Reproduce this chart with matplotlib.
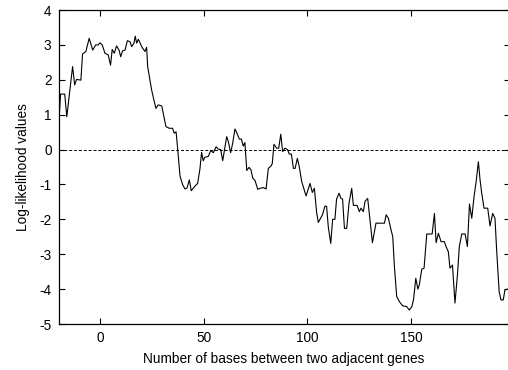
import matplotlib.pyplot as plt

ARQUIVO_SAIDA = "out.png"

# distancia entre genes adjacentes (bases) e log-verossimilhanca
distancia = [
    -20, -19, -17, -16, -13.2, -12.2, -11.3, -9.2, -8.4, -6.8,
    -5.2, -3.5, -2.1, -0.8, 0, 1.1, 2.4, 4.0, 5.1, 5.9,
    6.9, 8.0, 9.2, 10.0, 10.9, 12.1, 13.2, 14.5, 15.3, 16.4,
    17.0, 17.7, 18.5, 19.3, 20.1, 21.7, 22.5, 23.0, 24.1, 24.9,
    26.0, 27.0, 28.1, 29.8, 30.5, 31.8, 33.4, 35.0, 35.8, 36.7,
    37.5, 38.6, 39.9, 41.0, 42.0, 43.1, 44.0, 45.0, 46.1, 47.1,
    48.2, 49.0, 49.8, 50.6, 52.2, 53.4, 54.7, 56.0, 57.1, 58.2,
    59.2, 61.1, 61.9, 63.0, 64.0, 65.1, 66.2, 67.2, 68.2, 69.1,
    69.9, 70.8, 71.9, 72.8, 73.7, 74.8, 76.1, 77.2, 78.8, 80.1,
    81.2, 82.5, 83.1, 83.9, 85.2, 86.2, 87.2, 88.1, 89.2, 90.4,
    91.3, 92.3, 93.3, 94.1, 95.2, 96.1, 97.3, 99.4, 101.3, 102.4,
    103.4, 104.5, 105.3, 106.4, 107.3, 108.5, 109.3, 110.1, 111.3, 112.2,
    113.3, 114.1, 115.3, 116.2, 117.0, 117.9, 119.0, 120.1, 121.4, 122.2,
    124.0, 125.1, 125.9, 127.0, 127.8, 129.1, 130.2, 131.4, 133.1, 135.1,
    137.2, 138.0, 139.1, 140.2, 141.2, 142.0, 143.1, 144.4, 146.0, 147.9,
    149.2, 150.4, 151.2, 152.3, 153.3, 154.0, 155.2, 156.3, 157.6, 158.9,
    160.2, 161.3, 162.1, 163.2, 164.5, 166.1, 166.9, 168.0, 168.8, 170.0,
    171.2, 172.4, 173.3, 174.5, 176.1, 177.2, 178.2, 179.3, 180.4, 181.4,
    182.5, 183.3, 184.1, 185.2, 187.0, 188.1, 189.4, 190.5, 191.3, 192.5,
    193.4, 194.5, 195.3, 196.4,
]
log_verossimilhanca = [
    0.61, 1.59, 1.59, 0.94, 2.38, 1.85, 2.01, 1.99, 2.74, 2.81,
    3.19, 2.85, 3.0, 3.0, 3.06, 3.0, 2.76, 2.71, 2.42, 2.87,
    2.76, 2.97, 2.85, 2.66, 2.83, 2.85, 3.12, 3.09, 2.95, 3.05,
    3.25, 3.05, 3.16, 3.06, 2.95, 2.81, 2.93, 2.38, 1.99, 1.71,
    1.42, 1.18, 1.28, 1.25, 1.04, 0.66, 0.61, 0.61, 0.47, 0.51,
    0.0, -0.76, -1.01, -1.13, -1.10, -0.87, -1.18, -1.11, -1.03, -0.97,
    -0.56, -0.08, -0.32, -0.22, -0.20, -0.03, -0.09, 0.08, 0.01, 0.0,
    -0.32, 0.37, 0.23, -0.09, 0.18, 0.59, 0.45, 0.30, 0.30, 0.10,
    0.20, -0.60, -0.51, -0.58, -0.82, -0.89, -1.14, -1.11, -1.09, -1.13,
    -0.54, -0.47, -0.40, 0.15, 0.04, 0.04, 0.44, -0.06, 0.04, 0.0,
    -0.13, -0.13, -0.54, -0.54, -0.25, -0.49, -0.92, -1.33, -0.97, -1.23,
    -1.11, -1.81, -2.09, -1.97, -1.87, -1.62, -1.63, -2.21, -2.69, -2.00,
    -2.00, -1.42, -1.25, -1.40, -1.42, -2.26, -2.26, -1.54, -1.11, -1.60,
    -1.60, -1.78, -1.68, -1.78, -1.49, -1.40, -2.02, -2.67, -2.11, -2.11,
    -2.11, -1.87, -1.97, -2.26, -2.50, -3.36, -4.21, -4.36, -4.48, -4.50,
    -4.60, -4.50, -4.31, -3.69, -4.00, -3.88, -3.43, -3.40, -2.42, -2.42,
    -2.42, -1.83, -2.67, -2.40, -2.64, -2.64, -2.78, -2.93, -3.40, -3.31,
    -4.40, -3.59, -2.78, -2.42, -2.42, -2.78, -1.56, -1.97, -1.35, -0.92,
    -0.35, -0.87, -1.25, -1.68, -1.68, -2.19, -1.83, -1.97, -2.88, -4.07,
    -4.31, -4.31, -4.02, -4.00,
]
ticks_x = [0, 50, 100, 150]
ticks_y = [-5, -4, -3, -2, -1, 0, 1, 2, 3, 4]


def main():
    plt.rcParams['font.family'] = ['Liberation Sans', 'DejaVu Sans']
    plt.rcParams['axes.unicode_minus'] = False  # hifen simples como no original
    fig = plt.figure(figsize=(5.08, 3.70), dpi=100)
    # eixo vai um pouco alem da borda direita (cortado como no original)
    ax = fig.add_axes([58.5 / 508, 46 / 370, 451 / 508, 314 / 370])

    ax.plot(distancia, log_verossimilhanca, color='black', linewidth=0.8)
    ax.axhline(0, color='black', linewidth=0.7, linestyle=(0, (3, 2)))

    ax.set_xlim(-20, 197.5)
    ax.set_ylim(-5, 4)
    ax.set_xticks(ticks_x)
    ax.set_yticks(ticks_y)
    ax.tick_params(direction='in', top=True, right=True, length=4,
                   width=0.8, labelsize=9.8, pad=5)
    for spine in ax.spines.values():
        spine.set_linewidth(0.9)

    ax.set_xlabel('Number of bases between two adjacent genes', fontsize=9.8, labelpad=5)
    ax.set_ylabel('Log-likelihood values', fontsize=9.8, labelpad=7)

    fig.savefig(ARQUIVO_SAIDA, dpi=100)


if __name__ == '__main__':
    main()
